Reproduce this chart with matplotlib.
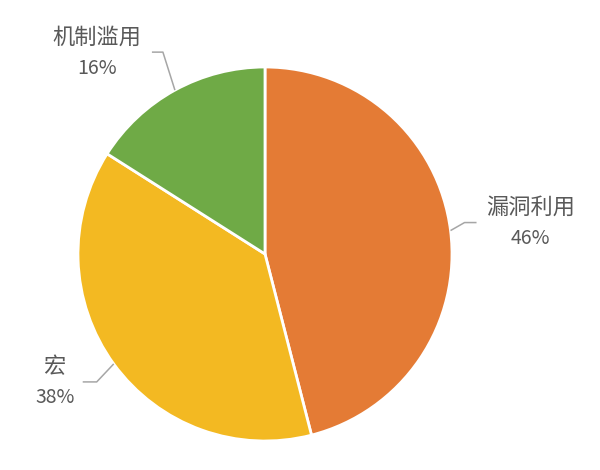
import matplotlib
matplotlib.use("Agg")
import matplotlib.pyplot as plt
import numpy as np

plt.rcParams['font.family'] = ['Noto Sans CJK SC', 'DejaVu Sans']

categories = ["漏洞利用", "宏", "机制滥用"]
shares = [46, 38, 16]
colors = ["#E47B35", "#F3B922", "#6FAA46"]

W, H = 600, 470
fig = plt.figure(figsize=(W / 100, H / 100), dpi=100)
ax = fig.add_axes([0, 0, 1, 1])

cx, cy, r = 265, H - 254, 187
wedges, _ = ax.pie(shares, colors=colors, startangle=90, counterclock=False,
                   center=(cx, cy), radius=r, frame=True,
                   wedgeprops=dict(edgecolor="white", linewidth=2))
ax.set_xlim(0, W)
ax.set_ylim(0, H)
ax.set_aspect("equal")
ax.axis("off")

# elbow (dx, dy) from the wedge edge, then horizontal run, then text offset
elbows = [(14, 8, 12, 54), (-17, -18, -14, -28), (-12, 38, -11, -55)]
for w, name, pct, (ex, ey, run, tx) in zip(wedges, categories, shares, elbows):
    mid = np.deg2rad((w.theta1 + w.theta2) / 2)
    x0, y0 = cx + r * np.cos(mid), cy + r * np.sin(mid)
    x1, y1 = x0 + ex, y0 + ey
    x2 = x1 + run
    ax.plot([x0, x1, x2], [y0, y1, y1], color="#A6A6A6", lw=1.1,
            solid_capstyle="butt")
    ax.text(x2 + tx, y1 + 15, name, ha="center", va="center",
            fontsize=16, color="#595959")
    ax.text(x2 + tx, y1 - 16, f"{pct}%", ha="center", va="center",
            fontsize=14, color="#595959")

fig.savefig("out.png", dpi=100, facecolor="white")
